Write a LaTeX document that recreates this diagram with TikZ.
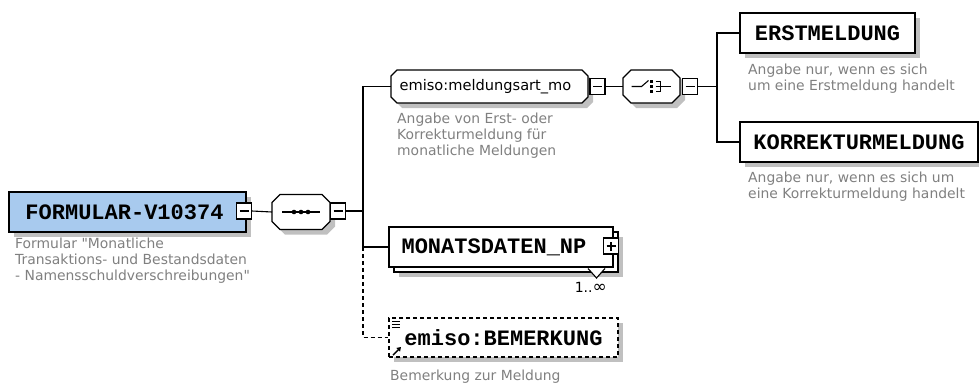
\documentclass[tikz,border=0pt]{standalone}
\usepackage{fontspec}
\usetikzlibrary{positioning,shadows,arrows.meta,backgrounds}
\newfontfamily\elemfont{Liberation Mono}
\newfontfamily\descfont{DejaVu Sans}
\definecolor{FormBlue}{RGB}{168,202,238}
\definecolor{ShadowGray}{RGB}{192,192,192}
\definecolor{DescGray}{RGB}{128,128,128}
% octagon outline round a node: name, corner cut
\newcommand\octround[2]{([xshift=#2]#1.north west) -- ([xshift=-#2]#1.north east) -- ([yshift=-#2]#1.north east)
	-- ([yshift=#2]#1.south east) -- ([xshift=-#2]#1.south east) -- ([xshift=#2]#1.south west)
	-- ([yshift=#2]#1.south west) -- ([yshift=-#2]#1.north west) -- cycle}
\tikzset{
	shd/.style={drop shadow={shadow xshift=5pt,shadow yshift=-5pt,fill=ShadowGray,opacity=1}},
	elem/.style={draw=black,line width=1.1pt,fill=white,inner sep=0pt,minimum height=40pt,
		font=\elemfont\bfseries\fontsize{22}{22}\selectfont},
	octo/.style={inner sep=0pt,outer sep=0pt},
	octline/.style={draw=black,line width=1.1pt,fill=white},
	octshd/.style={fill=ShadowGray,transform canvas={xshift=5pt,yshift=-5pt}},
	minusline/.style={path picture={\draw[line width=1.1pt] ([xshift=-4.5pt]path picture bounding box.center) -- ([xshift=4.5pt]path picture bounding box.center);}},
	tgl/.style={draw=black,line width=1.1pt,fill=white,minimum width=15pt,minimum height=16pt,inner sep=0pt,minusline},
	tglplus/.style={draw=black,line width=1.1pt,fill=white,minimum width=15pt,minimum height=16pt,inner sep=0pt,
		path picture={\draw[line width=1.1pt] ([xshift=-4.5pt]path picture bounding box.center) -- ([xshift=4.5pt]path picture bounding box.center)
			([yshift=-4.5pt]path picture bounding box.center) -- ([yshift=4.5pt]path picture bounding box.center);}},
	conn/.style={draw=black,line width=1.1pt},
	dashline/.style={dash pattern=on 4pt off 3pt},
	desc/.style={anchor=north west,inner sep=0pt,align=left,text=DescGray,
		font=\descfont\fontsize{13.9}{16}\selectfont},
}
\begin{document}
\begin{tikzpicture}[x=1pt,y=-1pt]
	\useasboundingbox (0,0) rectangle (979,383);
	% root element
	\node[elem,shd,fill=FormBlue,minimum width=237pt] (formular) at (127.5,212) {FORMULAR-V10374\hspace*{6pt}};
	\node[tgl] (formular-t) at (244,211) {};
	\node[desc] (formular-d) at (15,238) {Formular "Monatliche\\Transaktions- und Bestandsdaten\\- Namensschuldverschreibungen"};
	% sequence
	\node[octo,minimum width=58pt,minimum height=35pt] (seq) at (301,212) {};
	\begin{scope}[on background layer]
		\fill[octshd] \octround{seq}{8pt};
		\path[octline] \octround{seq}{8pt};
	\end{scope}
	\draw[conn] ([xshift=-19pt]seq.center) -- ([xshift=19pt]seq.center);
	\foreach \dx in {-7,0,7}
	\fill ([xshift=\dx pt]seq.center) circle (2.3pt);
	\node[tgl] (seq-t) at (338,211) {};
	\coordinate (fork1) at (363,211);
	% meldungsart
	\node[octo,minimum width=197pt,minimum height=33pt,font=\descfont\fontsize{14.6}{16}\selectfont] (meld) at (489.5,86.5) {emiso:meldungsart\_mo\hspace*{8pt}};
	\begin{scope}[on background layer]
		\fill[octshd] \octround{meld}{6pt};
		\path[octline] \octround{meld}{6pt};
	\end{scope}
	\node[tgl] (meld-t) at (597.5,86.5) {};
	\node[desc] (meld-d) at (397,113) {Angabe von Erst- oder\\Korrekturmeldung für\\monatliche Meldungen};
	% choice
	\node[octo,minimum width=57pt,minimum height=33pt] (choice) at (651.5,86.5) {};
	\begin{scope}[on background layer]
		\fill[octshd] \octround{choice}{8pt};
		\path[octline] \octround{choice}{8pt};
	\end{scope}
	\begin{scope}[shift={(choice.center)},line width=1.1pt]
		\draw (-20,0) -- (-10,0) -- (-3,-6);
		\foreach \dy in {-5,0,5}
		\fill (-1.5,\dy-1.6) rectangle (1.5,\dy+1.6);
		\draw (4,-5) -- (9,-5) -- (9,5) -- (4,5) (4,0) -- (19,0);
	\end{scope}
	\node[tgl] (choice-t) at (690,86.5) {};
	\coordinate (fork2) at (717,86.5);
	% choices
	\node[elem,shd,minimum width=175pt] (erst) at (827.5,33) {ERSTMELDUNG};
	\node[desc] (erst-d) at (748,64) {Angabe nur, wenn es sich\\um eine Erstmeldung handelt};
	\node[elem,shd,minimum width=238pt] (korr) at (859,142) {KORREKTURMELDUNG};
	\node[desc] (korr-d) at (748,172) {Angabe nur, wenn es sich um\\eine Korrekturmeldung handelt};
	% monatsdaten (1..unbounded)
	\node[elem,shd,minimum width=224pt] (monat-b) at (506,252) {};
	\node[elem,minimum width=224pt] (monat) at (501,247) {MONATSDATEN\_NP\hspace*{14pt}};
	\node[tglplus] (monat-t) at (611,246) {};
	\filldraw[fill=white,line width=1.1pt] (588,268.5) -- (596.5,278) -- (605,268.5);
	\node[anchor=north east,inner sep=0pt,font=\descfont\fontsize{14}{16}\selectfont] (monat-n) at (607,282) {1..{\fontsize{17}{16}\selectfont∞}};
	% bemerkung (optional, reference)
	\node[elem,shd,dashline,minimum width=229pt,minimum height=39pt] (bem) at (503.5,337.5) {emiso:BEMERKUNG};
	\foreach \dy in {321,324,327}
	\draw[line width=1pt] (392,\dy) -- (400,\dy);
	\draw[line width=1.4pt,-{Triangle[length=4pt,width=5pt]}] (393,355) -- (401,347);
	\node[desc] (bem-d) at (390,370) {Bemerkung zur Meldung};
	% connectors
	\draw[conn] (formular-t.east) -- (seq.west);
	\draw[conn] (seq-t.east) -- (fork1);
	\draw[conn] (fork1) |- (meld.west);
	\draw[conn] (fork1) |- (monat.west);
	\draw[conn,dashline] (monat.west -| fork1) |- (bem.west);
	\draw[conn] (meld-t.east) -- (choice.west);
	\draw[conn] (choice-t.east) -- (fork2);
	\draw[conn] (fork2) |- (erst.west);
	\draw[conn] (fork2) |- (korr.west);
\end{tikzpicture}
\end{document}
